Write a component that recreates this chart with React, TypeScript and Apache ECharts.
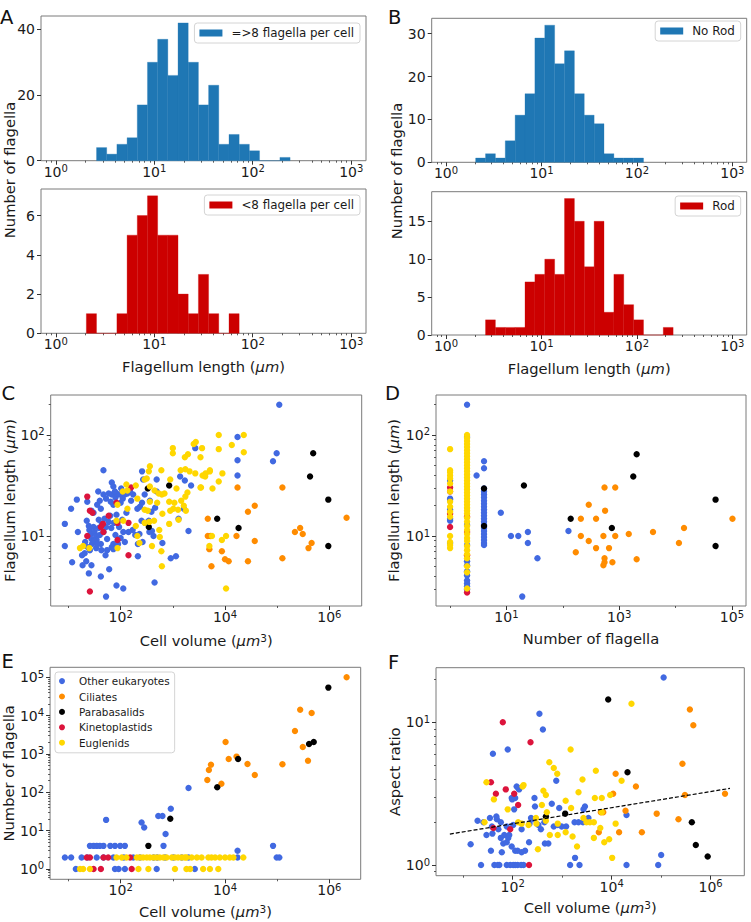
import React, { useEffect, useRef } from 'react';
import * as echarts from 'echarts';

const FONT = 'DejaVu Sans';
const TXT = '#1a1a1a';
const FRAME = '#7a7a7a';
const TICK = '#333';
const HIST_BLUE = '#1f77b4';
const HIST_RED = '#cc0000';

// ---------- histogram data (bins: logspace(0, 3, 30) of flagellum length) ----------
const HIST_N_EDGES = 30;
const histManyStart = 4;
const histManyCounts = [4, 2, 5, 7, 17, 30, 37, 26, 42, 30, 17, 23, 5, 8, 5, 3, 0, 0, 1];
const histFewStart = 3;
const histFewCounts = [1, 0, 0, 1, 5, 6, 7, 5, 5, 2, 1, 3, 1, 0, 1];
const histNoRodStart = 3;
const histNoRodCounts = [1, 2, 1, 5, 11, 16, 29, 32, 23, 26, 16, 11, 9, 2, 1, 1, 1];
const histRodStart = 4;
const histRodCounts = [2, 1, 1, 1, 7, 8, 10, 8, 18, 15, 9, 15, 3, 8, 4, 2, 0, 0, 1];

const histYTicksATop = [0, 20, 40];
const histYTicksABot = [0, 2, 4, 6];
const histYTicksBTop = [0, 10, 20, 30];
const histYTicksBBot = [0, 5, 10, 15];

// ---------- scatter data, all values are log10 ----------
// C: [log10 cell volume (um^3), log10 flagellum length (um)]
const cOther: number[][] = [
  [1.67,1.65],[0.93,1.12],[0.93,0.90],[1.05,1.27],[1.16,1.36],[1.07,0.74],[1.26,0.81],[1.27,0.71],[1.34,0.75],[1.44,0.71],
  [1.39,0.63],[1.62,0.60],[1.78,0.67],[1.71,0.81],[1.92,0.51],[2.05,0.48],[1.72,0.40],[2.33,0.80],[2.65,0.54],[2.96,0.78],
  [3.06,0.80],[2.80,0.93],[2.60,1.05],[3.30,1.05],[1.57,1.44],[1.83,1.53],[1.86,1.49],[2.41,1.64],[2.69,1.56],[3.14,1.59],
  [3.23,1.55],[3.35,1.50],[3.43,1.87],[4.24,1.98],[4.24,1.75],[4.24,1.60],
  [1.36,1.34],[1.44,1.25],[1.48,1.23],[1.55,1.31],[1.60,1.35],[1.62,1.27],[1.67,1.41],[1.72,1.37],[1.77,1.42],[1.81,1.34],
  [1.83,1.41],[1.86,1.31],[1.90,1.38],[1.92,1.42],[1.97,1.41],[2.00,1.33],[2.04,1.37],[2.08,1.41],[2.13,1.42],[2.18,1.44],
  [2.20,1.35],[2.24,1.41],[2.32,1.27],[2.37,1.29],[2.41,1.33],[2.43,1.56],[2.46,1.41],[2.56,1.35],[2.59,1.24],[2.66,1.28],
  [2.69,1.44],[2.40,1.15],[2.47,1.13],[2.54,1.15],
  [1.35,1.15],[1.39,1.10],[1.40,1.06],[1.43,1.02],[1.44,0.97],[1.45,0.92],[1.48,1.09],[1.50,1.04],[1.53,1.00],[1.54,0.96],
  [1.58,1.16],[1.58,1.08],[1.60,1.01],[1.62,0.92],[1.64,1.12],[1.67,1.04],[1.69,1.17],[1.72,1.09],[1.74,0.97],[1.77,1.14],
  [1.80,1.20],[1.82,1.08],[1.83,0.89],[1.86,0.92],[1.87,1.13],[1.90,1.01],[1.92,1.21],[1.95,0.92],[1.97,1.09],[2.00,0.98],
  [2.03,1.16],[2.05,1.04],[2.08,0.94],[2.11,1.23],[2.15,1.04],[2.23,1.06],[2.28,1.01],[2.33,0.92],[2.36,1.02],[2.42,0.94],
  [2.55,1.04],[2.63,1.00],[3.11,1.17],[3.21,1.27],[1.18,1.04],[1.31,0.83],[1.41,0.86],[1.53,0.88],[1.63,0.86],[1.74,0.86],
  [1.86,0.87],[1.32,0.94],[1.37,0.89],[1.49,0.95],[1.55,0.92],[1.89,1.44],[2.01,1.47],
  [5.04,2.30],[4.99,1.82],[4.92,1.74],
];
const cCiliates: number[][] = [
  [3.67,1.17],[3.67,1.00],[3.70,0.87],[3.74,0.70],[3.94,0.85],[4.00,0.77],[4.07,0.75],[4.22,1.00],[4.24,1.48],[4.44,1.24],
  [4.57,1.30],[4.57,0.95],[4.44,0.75],[5.10,1.48],[5.10,0.78],[5.34,1.04],[5.44,1.08],[5.49,1.02],[5.60,0.88],[5.66,0.93],
  [6.33,1.18],[3.72,1.00],
];
const cPara: number[][] = [
  [2.52,1.47],[2.93,1.50],[2.54,1.09],[3.85,1.17],[4.26,1.08],[5.63,1.59],[5.69,1.82],[5.98,1.36],[5.98,0.90],
];
const cKineto: number[][] = [
  [1.36,1.39],[1.41,1.25],[1.46,1.23],[1.77,1.20],[1.66,1.12],[1.62,1.09],[1.67,1.04],[1.94,1.13],[2.15,1.13],[1.94,0.96],
  [1.36,1.00],[2.15,0.81],[2.20,1.48],[1.41,0.45],[1.92,1.33],
];
const cEuglen: number[][] = [
  [2.56,1.69],[2.54,1.64],[2.46,1.56],[2.50,1.57],[2.78,1.65],[2.95,1.56],[3.00,1.87],[3.00,1.82],[3.23,1.78],[3.29,1.81],
  [3.40,1.91],[3.44,1.93],[3.56,1.87],[3.53,1.78],[3.88,2.00],[3.88,1.86],[4.13,1.90],[4.36,2.00],[4.36,1.83],[3.15,1.65],
  [3.24,1.66],[3.32,1.64],[3.43,1.62],[3.57,1.60],[3.63,1.62],[3.71,1.64],[3.95,1.62],[3.88,1.54],[3.76,1.47],[3.53,1.48],
  [2.11,1.51],[2.29,1.50],[2.56,1.49],[2.65,1.45],[2.73,1.42],[2.79,1.41],[2.84,1.42],[3.28,1.43],[3.24,1.39],[3.07,1.47],
  [3.16,1.35],[3.03,1.33],[2.93,1.34],[2.70,1.33],[2.56,1.34],[2.46,1.26],[2.52,1.25],[2.80,1.22],[3.01,1.27],[3.10,1.26],
  [3.21,1.30],[3.25,1.25],[2.95,1.25],[2.13,1.27],[1.94,1.31],[2.04,1.44],[2.13,1.45],[2.32,1.37],[2.46,1.13],[2.55,1.14],
  [2.64,1.15],[2.74,1.06],[2.75,0.99],[2.93,1.12],[3.11,1.16],[2.29,1.10],[2.05,1.15],[2.32,1.00],[2.36,0.93],[2.60,0.90],
  [2.78,0.85],[2.79,0.70],[3.94,0.96],[4.02,1.00],[3.75,1.00],[3.70,0.90],[4.02,0.48],[1.94,0.88],[1.40,0.88],[1.22,0.88],
  [1.28,0.90],[1.92,1.15],[3.71,1.65],[3.62,1.59],[3.54,1.48],
];

// D: [log10 number of flagella, log10 flagellum length (um)]
const dOther: number[][] = [
  [0,1.55],[0,1.37],[0,1.36],[0,1.26],[0,1.17],[0,1.15],[0,0.93],
  [0.301,2.30],[0.301,1.98],[0.301,1.11],[0.301,0.91],[0.301,0.75],[0.301,0.71],[0.301,0.65],[0.301,0.61],[0.301,0.56],
  [0.301,0.53],[0.301,0.50],[0.301,0.47],
  [0.602,1.74],[0.602,1.67],[0.602,1.47],[0.602,1.44],[0.602,1.41],[0.602,1.38],[0.602,1.35],[0.602,1.32],[0.602,1.29],
  [0.602,1.26],[0.602,1.23],[0.602,1.20],[0.602,1.17],[0.602,1.14],[0.602,1.11],[0.602,1.08],[0.602,1.05],[0.602,1.02],
  [0.602,0.99],[0.602,0.96],[0.602,0.93],[0.602,0.91],
  [0.47,1.60],[0.90,1.23],[1.08,1.00],[1.21,1.00],[1.38,1.04],[1.38,0.93],[1.55,0.78],[1.28,0.40],[2.10,1.05],
];
const dCiliates: number[][] = [
  [2.32,1.17],[2.32,1.00],[2.23,0.84],[2.46,1.31],[2.46,0.95],[2.59,1.17],[2.59,0.88],[2.74,1.48],[2.75,1.25],[2.72,1.00],
  [2.82,0.88],[2.74,0.78],[2.74,0.74],[2.72,0.71],[2.88,0.74],[2.93,1.48],[2.93,1.00],[3.17,1.02],[3.31,0.77],[3.60,1.04],
  [4.06,0.93],[4.15,1.08],[5.01,1.17],
];
const dPara: number[][] = [
  [0.602,1.47],[0.602,1.10],[1.31,1.50],[2.14,1.17],[2.87,1.08],[3.25,1.59],[3.31,1.81],[4.71,1.36],[4.71,0.90],
];
const dKineto: number[][] = [
  [0,1.48],[0,1.44],[0,1.22],[0,1.09],[0.301,1.19],[0.301,1.04],[0.301,0.81],[0.301,0.44],
];
const dEuglen: number[][] = [
  [0,1.86],[0,1.65],[0,1.63],[0,1.60],[0,1.57],[0,1.52],[0,1.44],[0,1.34],[0,1.29],[0,1.24],[0,1.19],[0,1.00],[0,0.94],
  [0,0.91],[0,0.88],
  [0.301,2.00],[0.301,1.97],[0.301,1.94],[0.301,1.91],[0.301,1.88],[0.301,1.85],[0.301,1.82],[0.301,1.79],[0.301,1.76],
  [0.301,1.73],[0.301,1.70],[0.301,1.67],[0.301,1.64],[0.301,1.61],[0.301,1.58],[0.301,1.55],[0.301,1.52],[0.301,1.49],
  [0.301,1.46],[0.301,1.43],[0.301,1.40],[0.301,1.37],[0.301,1.34],[0.301,1.31],[0.301,1.28],[0.301,1.25],[0.301,1.22],
  [0.301,1.18],[0.301,1.14],[0.301,1.10],[0.301,1.06],[0.301,1.02],[0.301,0.98],[0.301,0.95],[0.301,0.90],[0.301,0.86],
  [0.301,0.82],[0.301,0.78],[0.301,0.70],[0.301,0.64],[0.301,0.48],
];

// E: [log10 cell volume (um^3), log10 number of flagella]
const eOther: number[][] = [
  [0.93,0.301],[1.05,0.301],[1.25,0.301],[1.36,0.301],[1.54,0.301],[1.67,0.301],[1.86,0.301],[2.06,0.301],[2.24,0.301],
  [2.37,0.301],[2.63,0.301],[2.70,0.301],[2.85,0.301],[3.01,0.301],[3.17,0.301],[3.30,0.301],[4.24,0.301],[4.99,0.301],
  [5.04,0.301],
  [1.14,0],[1.89,0],[1.96,0],[2.08,0],[2.69,0],[3.42,0],
  [1.41,0.602],[1.48,0.602],[1.54,0.602],[1.60,0.602],[1.67,0.602],[1.80,0.602],[1.89,0.602],[1.99,0.602],[2.08,0.602],
  [2.82,0.602],[4.92,0.602],[4.24,0.477],
  [1.72,1.28],[2.40,1.21],[2.45,1.08],[2.72,1.38],[2.80,1.38],[2.96,1.57],[2.86,0.91],[3.30,2.11],
];
const eCiliates: number[][] = [
  [3.66,2.32],[3.69,2.58],[3.73,2.72],[3.93,2.22],[4.01,3.31],[4.07,2.87],[4.22,2.93],[4.43,2.74],[4.57,2.45],[5.10,2.73],
  [5.34,3.60],[5.44,4.15],[5.49,3.18],[5.59,2.82],[5.66,4.07],[6.33,5.00],
];
const ePara: number[][] = [
  [2.53,0.602],[2.95,1.31],[3.85,2.13],[4.25,2.87],[5.61,3.26],[5.70,3.31],[5.98,4.73],
];
const eKineto: number[][] = [
  [1.35,0.301],[1.41,0.301],[1.67,0.301],[1.76,0.301],[2.18,0.301],[1.48,0],[1.62,0],[2.21,0],
];
const eEuglen: number[][] = [
  [1.92,0.301],[2.02,0.301],[2.11,0.301],[2.31,0.301],[2.37,0.301],[2.43,0.301],[2.50,0.301],[2.56,0.301],[2.63,0.301],
  [2.69,0.301],[2.75,0.301],[2.82,0.301],[2.88,0.301],[2.98,0.301],[3.04,0.301],[3.10,0.301],[3.17,0.301],[3.23,0.301],
  [3.26,0.301],[3.36,0.301],[3.46,0.301],[3.55,0.301],[3.68,0.301],[3.74,0.301],[3.81,0.301],[3.90,0.301],[4.00,0.301],
  [4.09,0.301],[4.16,0.301],[4.35,0.301],
  [1.22,0],[1.28,0],[1.41,0],[2.34,0],[2.53,0],[3.04,0],[3.26,0],[3.33,0],[3.58,0],[3.71,0],[3.87,0],
];

// F: [log10 cell volume (um^3), log10 aspect ratio]
const fOther: number[][] = [
  [5.05,1.315],[2.54,1.06],[2.61,0.95],[1.60,0.78],[1.90,0.81],[2.88,0.59],[2.94,0.40],[2.05,0.47],[2.08,0.55],[2.11,0.54],
  [1.98,0.47],[2.44,0.47],[2.79,0.43],[2.64,0.30],[3.46,0.41],[3.42,0.30],[3.53,0.33],[4.30,0.35],[5.00,0.07],[3.26,0.05],
  [4.30,0],[4.94,0],[3.16,0],[3.35,0],[1.36,0],[1.63,0],[1.70,0],[1.73,0],[1.88,0],[1.95,0],[2.01,0],[2.05,0],[2.10,0],
  [2.17,0],[2.22,0],[1.15,0.145],[1.29,0.31],[1.47,0.21],[1.59,0.22],[1.68,0.32],[1.58,0.27],[1.71,0.25],[1.76,0.19],
  [1.81,0.15],[1.88,0.27],[1.91,0.19],[1.98,0.13],[2.05,0.10],[2.10,0.10],[2.18,0.09],[2.25,0.10],[2.33,0.16],[1.76,0.30],
  [1.83,0.21],[1.93,0.21],[2.01,0.28],[2.18,0.25],[2.37,0.33],[2.45,0.41],[2.57,0.25],[2.65,0.15],[2.72,0.15],[2.83,0.27],
  [2.91,0.28],[2.99,0.27],[3.08,0.27],[3.25,0.30],[3.33,0.30],[3.43,0.39],[2.41,0.32],[2.52,0.28],[2.34,0.29],[1.78,0.09],
  [1.88,0.16],[1.56,0.10],[1.41,0.30],[1.54,0.33],[1.67,0.34],[2.03,0.39],[2.13,0.53],[1.99,0.46],
];
const fCiliates: number[][] = [
  [5.58,1.09],[5.65,0.98],[5.43,0.71],[4.08,0.64],[4.03,0.50],[4.49,0.55],[4.28,0.38],[3.78,0.37],[3.83,0.37],[3.74,0.23],
  [4.15,0.23],[4.61,0.23],[4.91,0.36],[5.35,0.32],[5.48,0.49],[6.29,0.50],
];
const fPara: number[][] = [
  [3.93,1.16],[4.32,0.65],[2.67,0.34],[3.06,0.36],[5.62,0.30],[5.70,0.14],[5.94,0.06],
];
const fKineto: number[][] = [
  [1.80,1.00],[2.36,0.86],[1.56,0.58],[1.66,0.50],[1.86,0.53],[2.03,0.50],[2.11,0.42],[1.95,0.25],[1.61,0.26],[2.33,0],
];
const fEuglen: number[][] = [
  [4.40,1.13],[3.17,0.81],[2.74,0.72],[2.83,0.68],[2.90,0.64],[3.68,0.66],[3.41,0.60],[3.33,0.51],[3.07,0.45],[3.66,0.47],
  [3.80,0.47],[3.97,0.49],[4.20,0.59],[2.22,0.56],[2.62,0.52],[2.67,0.49],[2.59,0.42],[2.69,0.37],[2.91,0.29],[2.75,0.21],
  [2.91,0.21],[3.07,0.23],[3.21,0.20],[3.30,0.13],[3.43,0.33],[3.49,0.30],[3.56,0.30],[3.64,0.30],[3.64,0.19],[3.77,0.26],
  [3.85,0.16],[3.95,0.18],[4.01,0.05],[4.08,0.29],[3.80,0.37],[2.67,0.31],[2.48,0.29],[2.47,0.33],[2.32,0.28],[2.51,0.11],
  [2.18,0.29],[1.47,0.58],[1.62,0.46],[1.43,0.30],[2.11,0.30],[1.90,0.39],[2.20,0.55],[3.18,0.40],
];
// power-law fit in F (end points, log10)
const fFit: number[][] = [[0.73, 0.217], [6.39, 0.537]];

const GROUPS = [
  { name: 'Other eukaryotes', color: '#4169e1' },
  { name: 'Ciliates', color: '#ff8c00' },
  { name: 'Parabasalids', color: '#000000' },
  { name: 'Kinetoplastids', color: '#dc143c' },
  { name: 'Euglenids', color: '#ffd700' },
];

const SUP_RICH = {
  b: { fontSize: 14, fontFamily: FONT, color: TXT, lineHeight: 16 },
  s: { fontSize: 10, fontFamily: FONT, color: TXT, lineHeight: 8, verticalAlign: 'top' },
};
const NAME_RICH = {
  n: { fontSize: 14.7, fontFamily: FONT, color: TXT, lineHeight: 16 },
  i: { fontSize: 14.7, fontFamily: FONT, color: TXT, lineHeight: 16, fontStyle: 'italic' },
  p: { fontSize: 10.5, fontFamily: FONT, color: TXT, lineHeight: 8, verticalAlign: 'top' },
};
const LENGTH_NAME = '{n|Flagellum length (}{i|μm}{n|)}';
const VOLUME_NAME = '{n|Cell volume (}{i|μm}{p|3}{n|)}';

function minorLog(lo: number, hi: number): number[] {
  const out: number[] = [];
  for (let n = Math.floor(lo) - 1; n <= Math.ceil(hi); n++) {
    for (let k = 2; k <= 9; k++) {
      const v = n + Math.log10(k);
      if (v > lo && v < hi) out.push(v);
    }
  }
  return out;
}

function buildOption() {
  const grids = [
    { left: 41, top: 16, width: 325, height: 144.7 },
    { left: 41, top: 189, width: 325, height: 144.3 },
    { left: 431.7, top: 18.3, width: 315, height: 144 },
    { left: 431.7, top: 191.7, width: 315, height: 143.3 },
    { left: 50.7, top: 395, width: 311, height: 211 },
    { left: 436, top: 395, width: 310, height: 211 },
    { left: 50, top: 667.3, width: 310.7, height: 212 },
    { left: 436, top: 667.7, width: 308.3, height: 208 },
  ].map((g) => ({ ...g, show: true, borderColor: FRAME, borderWidth: 1, backgroundColor: 'transparent', containLabel: false }));

  const xAxes: any[] = [];
  const yAxes: any[] = [];

  function logAxis(list: any[], dim: 'x' | 'y', gridIndex: number, min: number, max: number,
    majors: number[], minors: number[], name?: string, nameGap?: number) {
    const position = dim === 'x' ? 'bottom' : 'left';
    list.push({
      type: 'value', gridIndex, min, max, position,
      axisLine: { show: false, onZero: false }, splitLine: { show: false },
      axisTick: { show: true, length: 4, customValues: majors, lineStyle: { color: TICK, width: 1 } },
      axisLabel: {
        customValues: majors, margin: dim === 'x' ? 3 : 6,
        formatter: (v: number) => `{b|10}{s|${Math.round(v)}}`, rich: SUP_RICH,
      },
      name: name || '', nameLocation: 'middle', nameGap: nameGap || 0,
      nameTextStyle: { rich: NAME_RICH, fontSize: 14.7, fontFamily: FONT, color: TXT },
    });
    const idx = list.length - 1;
    list.push({
      type: 'value', gridIndex, min, max, position,
      axisLine: { show: false, onZero: false }, splitLine: { show: false }, axisLabel: { show: false },
      axisTick: { show: true, length: 2, customValues: minors, lineStyle: { color: TICK, width: 0.8 } },
    });
    return idx;
  }
  function linAxis(gridIndex: number, max: number, ticks: number[]) {
    yAxes.push({
      type: 'value', gridIndex, min: 0, max, position: 'left',
      axisLine: { show: false, onZero: false }, splitLine: { show: false },
      axisTick: { show: true, length: 4, customValues: ticks, lineStyle: { color: TICK, width: 1 } },
      axisLabel: { customValues: ticks, fontSize: 14, fontFamily: FONT, color: TXT, margin: 6 },
    });
    return yAxes.length - 1;
  }

  const HX: [number, number] = [-0.15, 3.15];
  const histMajors = [0, 1, 2, 3];
  const histMinors = minorLog(HX[0], HX[1]);

  const xA1 = logAxis(xAxes, 'x', 0, HX[0], HX[1], histMajors, histMinors);
  const xA2 = logAxis(xAxes, 'x', 1, HX[0], HX[1], histMajors, histMinors, LENGTH_NAME, 25);
  const xB1 = logAxis(xAxes, 'x', 2, HX[0], HX[1], histMajors, histMinors);
  const xB2 = logAxis(xAxes, 'x', 3, HX[0], HX[1], histMajors, histMinors, LENGTH_NAME, 25);
  const yA1 = linAxis(0, 44.1, histYTicksATop);
  const yA2 = linAxis(1, 7.35, histYTicksABot);
  const yB1 = linAxis(2, 33.6, histYTicksBTop);
  const yB2 = linAxis(3, 18.9, histYTicksBBot);

  const CX: [number, number] = [0.659, 6.62];
  const CY: [number, number] = [0.307, 2.396];
  const DX: [number, number] = [-0.25, 5.25];
  const EX: [number, number] = [0.646, 6.6];
  const EY: [number, number] = [-0.27, 5.26];
  const FX: [number, number] = [0.45, 6.68];
  const FY: [number, number] = [-0.075, 1.383];

  const xC = logAxis(xAxes, 'x', 4, CX[0], CX[1], [2, 4, 6], [1, 3, 5], VOLUME_NAME, 26);
  const yC = logAxis(yAxes, 'y', 4, CY[0], CY[1], [1, 2], minorLog(CY[0], CY[1]), LENGTH_NAME, 33);
  const xD = logAxis(xAxes, 'x', 5, DX[0], DX[1], [1, 3, 5], [0, 2, 4], '{n|Number of flagella}', 24);
  const yD = logAxis(yAxes, 'y', 5, CY[0], CY[1], [1, 2], minorLog(CY[0], CY[1]), LENGTH_NAME, 34.5);
  const xE = logAxis(xAxes, 'x', 6, EX[0], EX[1], [2, 4, 6], [1, 3, 5], VOLUME_NAME, 24);
  const yE = logAxis(yAxes, 'y', 6, EY[0], EY[1], [0, 1, 2, 3, 4, 5], minorLog(EY[0], EY[1]), '{n|Number of flagella}', 33.5);
  const xF = logAxis(xAxes, 'x', 7, FX[0], FX[1], [2, 4, 6], [1, 3, 5], VOLUME_NAME, 24);
  const yF = logAxis(yAxes, 'y', 7, FY[0], FY[1], [0, 1], minorLog(FY[0], FY[1]), '{n|Aspect ratio}', 34);

  const edges: number[] = [];
  for (let k = 0; k < HIST_N_EDGES; k++) edges.push((3 * k) / (HIST_N_EDGES - 1));

  const series: any[] = [];
  function hist(name: string, color: string, start: number, counts: number[], xi: number, yi: number) {
    series.push({
      type: 'custom', name, xAxisIndex: xi, yAxisIndex: yi,
      itemStyle: { color },
      encode: { x: [0, 1], y: 2 },
      data: counts.map((c, i) => [edges[start + i], edges[start + i + 1], c]),
      renderItem: (_p: any, api: any) => {
        const a = api.coord([api.value(0), api.value(2)]);
        const b = api.coord([api.value(1), 0]);
        return {
          type: 'rect',
          shape: { x: a[0], y: a[1], width: b[0] - a[0], height: b[1] - a[1] },
          style: { fill: color, stroke: color, lineWidth: 0.3 },
        };
      },
    });
  }
  hist('=>8 flagella per cell', HIST_BLUE, histManyStart, histManyCounts, xA1, yA1);
  hist('<8 flagella per cell', HIST_RED, histFewStart, histFewCounts, xA2, yA2);
  hist('No Rod', HIST_BLUE, histNoRodStart, histNoRodCounts, xB1, yB1);
  hist('Rod', HIST_RED, histRodStart, histRodCounts, xB2, yB2);

  function scatterPanel(xi: number, yi: number, sets: number[][][]) {
    sets.forEach((data, g) => {
      series.push({
        type: 'scatter', name: GROUPS[g].name, xAxisIndex: xi, yAxisIndex: yi,
        symbol: 'circle', symbolSize: 6.4, itemStyle: { color: GROUPS[g].color, opacity: 1 },
        data,
      });
    });
  }
  scatterPanel(xC, yC, [cOther, cCiliates, cPara, cKineto, cEuglen]);
  scatterPanel(xD, yD, [dOther, dCiliates, dPara, dKineto, dEuglen]);
  scatterPanel(xE, yE, [eOther, eCiliates, ePara, eKineto, eEuglen]);
  scatterPanel(xF, yF, [fOther, fCiliates, fPara, fKineto, fEuglen]);

  series.push({
    type: 'line', name: 'fit', xAxisIndex: xF, yAxisIndex: yF, data: fFit,
    symbol: 'none', lineStyle: { color: '#000', width: 1.2, type: [4, 2] }, z: 5,
  });

  const histLegend = (name: string, right: number, top: number) => ({
    data: [{ name, icon: 'rect' }], right, top, orient: 'horizontal',
    itemWidth: 23, itemHeight: 7, selectedMode: false,
    textStyle: { fontSize: 11.9, fontFamily: FONT, color: TXT, padding: [0, 0, 0, 4] },
    padding: [4, 6, 4, 5], borderColor: '#d4d4d4', borderWidth: 1, borderRadius: 3,
    backgroundColor: '#ffffff',
  });

  const legends = [
    histLegend('=>8 flagella per cell', 391, 23),
    histLegend('<8 flagella per cell', 391, 195),
    histLegend('No Rod', 10.3, 21),
    histLegend('Rod', 10.3, 196),
    {
      data: GROUPS.map((g) => ({ name: g.name, icon: 'circle' })),
      left: 55, top: 672, orient: 'vertical', itemWidth: 24, itemHeight: 6, itemGap: 3.2,
      selectedMode: false,
      textStyle: { fontSize: 10.4, fontFamily: FONT, color: TXT, lineHeight: 12.2 },
      padding: [3, 5, 4, 4], borderColor: '#d4d4d4', borderWidth: 1, borderRadius: 3,
      backgroundColor: '#ffffff',
    },
  ];

  const letter = (t: string, x: number, y: number) => ({
    type: 'text', x, y, silent: true,
    style: { text: t, fontSize: 19.5, fontFamily: FONT, fill: '#111', align: 'left', verticalAlign: 'middle' },
  });
  const vlabel = (t: string, x: number, y: number) => ({
    type: 'text', x, y, rotation: Math.PI / 2, silent: true,
    style: { text: t, fontSize: 14.7, fontFamily: FONT, fill: TXT, align: 'center', verticalAlign: 'middle' },
  });

  return {
    animation: false,
    backgroundColor: '#ffffff',
    textStyle: { fontFamily: FONT },
    grid: grids,
    xAxis: xAxes,
    yAxis: yAxes,
    legend: legends,
    series,
    graphic: [
      letter('A', 0, 17),
      letter('B', 388, 17),
      letter('C', 1.5, 393),
      letter('D', 385, 393),
      letter('E', 1.5, 661),
      letter('F', 388, 662),
      vlabel('Number of flagella', 9.5, 170),
      vlabel('Number of flagella', 396.7, 171),
    ],
  };
}

export default function App() {
  const ref = useRef<HTMLDivElement>(null);
  useEffect(() => {
    document.body.style.margin = '0';
    const chart = echarts.init(ref.current as HTMLDivElement, null, { renderer: 'svg' });
    chart.setOption(buildOption() as any);
    return () => chart.dispose();
  }, []);
  return <div ref={ref} style={{ width: 751, height: 922 }} />;
}
